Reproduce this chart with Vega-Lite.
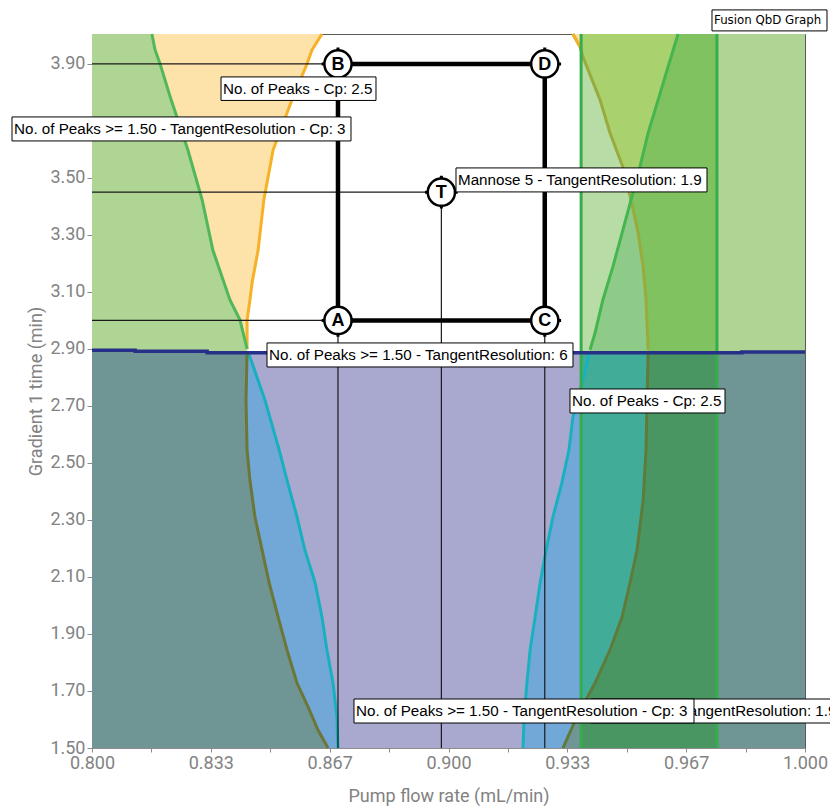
{
  "$schema": "https://vega.github.io/schema/vega-lite/v6.json",
  "width": 713,
  "height": 714,
  "autosize": {"type": "none"},
  "padding": {"left": 92, "top": 34, "right": 25, "bottom": 59},
  "background": "white",
  "config": {
    "view": {"stroke": "#5a5a5a", "strokeWidth": 1},
    "axis": {
      "grid": false,
      "domainColor": "#8c8c8c",
      "tickColor": "#8c8c8c",
      "labelColor": "#828282",
      "titleColor": "#828282",
      "labelFont": "Roboto",
      "titleFont": "Roboto",
      "labelFontSize": 18,
      "titleFontSize": 18,
      "titleFontWeight": "normal",
      "labelFlush": false,
      "labelOverlap": false
    }
  },
  "datasets": {
    "regions": [
      {"region": "o_left", "y": 2.88, "x": 0.8, "x2": 0.8435},
      {"region": "o_left", "y": 2.9, "x": 0.8, "x2": 0.8435},
      {"region": "o_left", "y": 3.002, "x": 0.8, "x2": 0.8435},
      {"region": "o_left", "y": 3.072, "x": 0.8, "x2": 0.8443},
      {"region": "o_left", "y": 3.132, "x": 0.8, "x2": 0.8449},
      {"region": "o_left", "y": 3.247, "x": 0.8, "x2": 0.8466},
      {"region": "o_left", "y": 3.423, "x": 0.8, "x2": 0.8482},
      {"region": "o_left", "y": 3.598, "x": 0.8, "x2": 0.8508},
      {"region": "o_left", "y": 3.774, "x": 0.8, "x2": 0.8561},
      {"region": "o_left", "y": 3.9, "x": 0.8, "x2": 0.8603},
      {"region": "o_left", "y": 3.949, "x": 0.8, "x2": 0.8617},
      {"region": "o_left", "y": 4.005, "x": 0.8, "x2": 0.8645},

      {"region": "go_left", "y": 2.88, "x": 0.8, "x2": 0.8437},
      {"region": "go_left", "y": 2.9, "x": 0.8, "x2": 0.8435},
      {"region": "go_left", "y": 3.002, "x": 0.8, "x2": 0.8415},
      {"region": "go_left", "y": 3.072, "x": 0.8, "x2": 0.8387},
      {"region": "go_left", "y": 3.247, "x": 0.8, "x2": 0.8339},
      {"region": "go_left", "y": 3.423, "x": 0.8, "x2": 0.8309},
      {"region": "go_left", "y": 3.598, "x": 0.8, "x2": 0.8269},
      {"region": "go_left", "y": 3.774, "x": 0.8, "x2": 0.8222},
      {"region": "go_left", "y": 3.9, "x": 0.8, "x2": 0.8191},
      {"region": "go_left", "y": 3.949, "x": 0.8, "x2": 0.8177},
      {"region": "go_left", "y": 4.005, "x": 0.8, "x2": 0.8168},

      {"region": "o_right", "y": 2.88, "x": 0.956, "x2": 1.0},
      {"region": "o_right", "y": 2.897, "x": 0.956, "x2": 1.0},
      {"region": "o_right", "y": 3.072, "x": 0.9554, "x2": 1.0},
      {"region": "o_right", "y": 3.188, "x": 0.9546, "x2": 1.0},
      {"region": "o_right", "y": 3.307, "x": 0.9532, "x2": 1.0},
      {"region": "o_right", "y": 3.423, "x": 0.9512, "x2": 1.0},
      {"region": "o_right", "y": 3.539, "x": 0.9489, "x2": 1.0},
      {"region": "o_right", "y": 3.658, "x": 0.9453, "x2": 1.0},
      {"region": "o_right", "y": 3.774, "x": 0.9425, "x2": 1.0},
      {"region": "o_right", "y": 3.925, "x": 0.9377, "x2": 1.0},
      {"region": "o_right", "y": 3.96, "x": 0.9369, "x2": 1.0},
      {"region": "o_right", "y": 4.005, "x": 0.9349, "x2": 1.0},

      {"region": "go_right", "y": 2.88, "x": 0.9753, "x2": 1.0},
      {"region": "go_right", "y": 4.005, "x": 0.9753, "x2": 1.0},

      {"region": "b", "y": 2.88, "x": 0.9372, "x2": 0.9753},
      {"region": "b", "y": 4.005, "x": 0.9372, "x2": 0.9753},

      {"region": "bo", "y": 2.88, "x": 0.956, "x2": 0.9753},
      {"region": "bo", "y": 2.897, "x": 0.956, "x2": 0.9753},
      {"region": "bo", "y": 3.072, "x": 0.9554, "x2": 0.9753},
      {"region": "bo", "y": 3.188, "x": 0.9546, "x2": 0.9753},
      {"region": "bo", "y": 3.307, "x": 0.9532, "x2": 0.9753},
      {"region": "bo", "y": 3.423, "x": 0.9512, "x2": 0.9753},
      {"region": "bo", "y": 3.539, "x": 0.9489, "x2": 0.9753},
      {"region": "bo", "y": 3.658, "x": 0.9453, "x2": 0.9753},
      {"region": "bo", "y": 3.774, "x": 0.9425, "x2": 0.9753},
      {"region": "bo", "y": 3.925, "x": 0.9377, "x2": 0.9753},
      {"region": "bo", "y": 3.945, "x": 0.9372, "x2": 0.9753},
      {"region": "bo", "y": 4.005, "x": 0.9372, "x2": 0.9753},

      {"region": "bg", "y": 2.88, "x": 0.9395, "x2": 0.9753},
      {"region": "bg", "y": 2.897, "x": 0.9397, "x2": 0.9753},
      {"region": "bg", "y": 2.956, "x": 0.9411, "x2": 0.9753},
      {"region": "bg", "y": 3.072, "x": 0.9433, "x2": 0.9753},
      {"region": "bg", "y": 3.188, "x": 0.9461, "x2": 0.9753},
      {"region": "bg", "y": 3.307, "x": 0.9487, "x2": 0.9753},
      {"region": "bg", "y": 3.423, "x": 0.9512, "x2": 0.9753},
      {"region": "bg", "y": 3.539, "x": 0.9537, "x2": 0.9753},
      {"region": "bg", "y": 3.658, "x": 0.956, "x2": 0.9753},
      {"region": "bg", "y": 3.774, "x": 0.9588, "x2": 0.9753},
      {"region": "bg", "y": 3.89, "x": 0.9616, "x2": 0.9753},
      {"region": "bg", "y": 4.005, "x": 0.9644, "x2": 0.9753},

      {"region": "bgo", "y": 2.88, "x": 0.956, "x2": 0.9753},
      {"region": "bgo", "y": 2.897, "x": 0.956, "x2": 0.9753},
      {"region": "bgo", "y": 3.072, "x": 0.9554, "x2": 0.9753},
      {"region": "bgo", "y": 3.188, "x": 0.9546, "x2": 0.9753},
      {"region": "bgo", "y": 3.307, "x": 0.9532, "x2": 0.9753},
      {"region": "bgo", "y": 3.423, "x": 0.9512, "x2": 0.9753},
      {"region": "bgo", "y": 3.539, "x": 0.9537, "x2": 0.9753},
      {"region": "bgo", "y": 3.658, "x": 0.956, "x2": 0.9753},
      {"region": "bgo", "y": 3.774, "x": 0.9588, "x2": 0.9753},
      {"region": "bgo", "y": 3.89, "x": 0.9616, "x2": 0.9753},
      {"region": "bgo", "y": 4.005, "x": 0.9644, "x2": 0.9753},

      {"region": "pg_left", "y": 1.5, "x": 0.8, "x2": 0.869},
      {"region": "pg_left", "y": 1.609, "x": 0.8, "x2": 0.8687},
      {"region": "pg_left", "y": 1.728, "x": 0.8, "x2": 0.8676},
      {"region": "pg_left", "y": 1.844, "x": 0.8, "x2": 0.8659},
      {"region": "pg_left", "y": 1.96, "x": 0.8, "x2": 0.8645},
      {"region": "pg_left", "y": 2.079, "x": 0.8, "x2": 0.8626},
      {"region": "pg_left", "y": 2.195, "x": 0.8, "x2": 0.8597},
      {"region": "pg_left", "y": 2.311, "x": 0.8, "x2": 0.8575},
      {"region": "pg_left", "y": 2.44, "x": 0.8, "x2": 0.8547},
      {"region": "pg_left", "y": 2.546, "x": 0.8, "x2": 0.8525},
      {"region": "pg_left", "y": 2.721, "x": 0.8, "x2": 0.8485},
      {"region": "pg_left", "y": 2.89, "x": 0.8, "x2": 0.8438},

      {"region": "pgo_left", "y": 1.5, "x": 0.8, "x2": 0.8662},
      {"region": "pgo_left", "y": 1.563, "x": 0.8, "x2": 0.8634},
      {"region": "pgo_left", "y": 1.644, "x": 0.8, "x2": 0.8606},
      {"region": "pgo_left", "y": 1.728, "x": 0.8, "x2": 0.8575},
      {"region": "pgo_left", "y": 1.844, "x": 0.8, "x2": 0.8547},
      {"region": "pgo_left", "y": 1.96, "x": 0.8, "x2": 0.8522},
      {"region": "pgo_left", "y": 2.079, "x": 0.8, "x2": 0.8497},
      {"region": "pgo_left", "y": 2.195, "x": 0.8, "x2": 0.8477},
      {"region": "pgo_left", "y": 2.311, "x": 0.8, "x2": 0.8457},
      {"region": "pgo_left", "y": 2.44, "x": 0.8, "x2": 0.8443},
      {"region": "pgo_left", "y": 2.546, "x": 0.8, "x2": 0.8435},
      {"region": "pgo_left", "y": 2.721, "x": 0.8, "x2": 0.8432},
      {"region": "pgo_left", "y": 2.89, "x": 0.8, "x2": 0.8435},

      {"region": "pg_right", "y": 1.5, "x": 0.9209, "x2": 1.0},
      {"region": "pg_right", "y": 1.609, "x": 0.9212, "x2": 1.0},
      {"region": "pg_right", "y": 1.728, "x": 0.922, "x2": 1.0},
      {"region": "pg_right", "y": 1.844, "x": 0.9229, "x2": 1.0},
      {"region": "pg_right", "y": 1.96, "x": 0.9243, "x2": 1.0},
      {"region": "pg_right", "y": 2.079, "x": 0.9257, "x2": 1.0},
      {"region": "pg_right", "y": 2.195, "x": 0.9274, "x2": 1.0},
      {"region": "pg_right", "y": 2.311, "x": 0.9293, "x2": 1.0},
      {"region": "pg_right", "y": 2.43, "x": 0.9318, "x2": 1.0},
      {"region": "pg_right", "y": 2.546, "x": 0.9338, "x2": 1.0},
      {"region": "pg_right", "y": 2.661, "x": 0.9349, "x2": 1.0},
      {"region": "pg_right", "y": 2.781, "x": 0.9375, "x2": 1.0},
      {"region": "pg_right", "y": 2.89, "x": 0.9396, "x2": 1.0},

      {"region": "pgo_right", "y": 1.5, "x": 0.9321, "x2": 1.0},
      {"region": "pgo_right", "y": 1.609, "x": 0.936, "x2": 1.0},
      {"region": "pgo_right", "y": 1.728, "x": 0.9411, "x2": 1.0},
      {"region": "pgo_right", "y": 1.844, "x": 0.9453, "x2": 1.0},
      {"region": "pgo_right", "y": 1.96, "x": 0.9487, "x2": 1.0},
      {"region": "pgo_right", "y": 2.079, "x": 0.9509, "x2": 1.0},
      {"region": "pgo_right", "y": 2.195, "x": 0.9529, "x2": 1.0},
      {"region": "pgo_right", "y": 2.37, "x": 0.9546, "x2": 1.0},
      {"region": "pgo_right", "y": 2.546, "x": 0.9554, "x2": 1.0},
      {"region": "pgo_right", "y": 2.89, "x": 0.956, "x2": 1.0},

      {"region": "bgp", "y": 1.5, "x": 0.9372, "x2": 0.9753},
      {"region": "bgp", "y": 2.89, "x": 0.9372, "x2": 0.9753},

      {"region": "bgop", "y": 1.5, "x": 0.9372, "x2": 0.9753},
      {"region": "bgop", "y": 1.636, "x": 0.9372, "x2": 0.9753},
      {"region": "bgop", "y": 1.728, "x": 0.9411, "x2": 0.9753},
      {"region": "bgop", "y": 1.844, "x": 0.9453, "x2": 0.9753},
      {"region": "bgop", "y": 1.96, "x": 0.9487, "x2": 0.9753},
      {"region": "bgop", "y": 2.079, "x": 0.9509, "x2": 0.9753},
      {"region": "bgop", "y": 2.195, "x": 0.9529, "x2": 0.9753},
      {"region": "bgop", "y": 2.37, "x": 0.9546, "x2": 0.9753},
      {"region": "bgop", "y": 2.546, "x": 0.9554, "x2": 0.9753},
      {"region": "bgop", "y": 2.89, "x": 0.956, "x2": 0.9753}
    ],
    "navy": [
      {"x": 0.8, "y": 2.8955, "base": 1.5},
      {"x": 0.8121, "y": 2.892, "base": 1.5},
      {"x": 0.8323, "y": 2.887, "base": 1.5},
      {"x": 0.9823, "y": 2.889, "base": 1.5},
      {"x": 1.0, "y": 2.889, "base": 1.5}
    ],
    "design": [
      {"name": "A", "x": 0.869, "y": 3.0, "x0": 0.8, "y0": 1.5},
      {"name": "B", "x": 0.869, "y": 3.9, "x0": 0.8, "y0": 1.5},
      {"name": "C", "x": 0.927, "y": 3.0, "x0": 0.8, "y0": 1.5},
      {"name": "D", "x": 0.927, "y": 3.9, "x0": 0.8, "y0": 1.5},
      {"name": "T", "x": 0.898, "y": 3.45, "x0": 0.8, "y0": 1.5}
    ],
    "labels": [
      {"id": 7, "text": "Mannose 5 - TangentResolution: 1.9", "x": 0.9399, "x2": 1.0101, "y": 1.6719, "y2": 1.5877, "ty": 1.6298},
      {"id": 1, "text": "No. of Peaks - Cp: 2.5", "x": 0.83619, "x2": 0.87966, "y": 3.8544, "y2": 3.7719, "ty": 3.8132},
      {"id": 2, "text": "No. of Peaks >= 1.50 - TangentResolution - Cp: 3", "x": 0.77756, "x2": 0.87265, "y": 3.714, "y2": 3.6298, "ty": 3.6719},
      {"id": 3, "text": "Mannose 5 - TangentResolution: 1.9", "x": 0.9021, "x2": 0.97251, "y": 3.5351, "y2": 3.4509, "ty": 3.493},
      {"id": 4, "text": "No. of Peaks >= 1.50 - TangentResolution: 6", "x": 0.84909, "x2": 0.93492, "y": 2.9211, "y2": 2.8368, "ty": 2.8789},
      {"id": 5, "text": "No. of Peaks - Cp: 2.5", "x": 0.93408, "x2": 0.97756, "y": 2.7596, "y2": 2.6754, "ty": 2.7175},
      {"id": 6, "text": "No. of Peaks >= 1.50 - TangentResolution - Cp: 3", "x": 0.87349, "x2": 0.96886, "y": 1.6719, "y2": 1.5877, "ty": 1.6298}
    ]
  },
  "layer": [
    {
      "data": {"name": "regions"},
      "transform": [{"filter": "datum.region == 'o_left'"}],
      "mark": {"type": "area", "orient": "horizontal", "fill": "#fde3aa"},
      "encoding": {
        "y": {
          "field": "y", "type": "quantitative",
          "scale": {"domain": [1.5, 4.005], "nice": false, "zero": false},
          "axis": {
            "title": "Gradient 1 time (min)",
            "values": [1.5, 1.6, 1.7, 1.8, 1.9, 2.0, 2.1, 2.2, 2.3, 2.4, 2.5, 2.6, 2.7, 2.8, 2.9, 3.0, 3.1, 3.2, 3.3, 3.4, 3.5, 3.6, 3.7, 3.8, 3.9],
            "labelExpr": "abs(datum.value * 5 - 0.5 - round(datum.value * 5 - 0.5)) < 0.001 && abs(datum.value - 3.7) > 0.001 ? format(datum.value, '.2f') : ''",
            "tickSize": {"condition": {"test": "abs(datum.value * 5 - 0.5 - round(datum.value * 5 - 0.5)) < 0.001", "value": 5}, "value": 3},
            "labelPadding": 2,
            "titlePadding": 4
          }
        },
        "x": {
          "field": "x", "type": "quantitative",
          "scale": {"domain": [0.8, 1.0], "nice": false, "zero": false},
          "axis": {
            "title": "Pump flow rate (mL/min)",
            "values": [0.8, 0.816667, 0.833333, 0.85, 0.866667, 0.883333, 0.9, 0.916667, 0.933333, 0.95, 0.966667, 0.983333, 1.0],
            "labelExpr": "abs(datum.value * 30 - round(datum.value * 30)) < 0.001 ? format(datum.value, '.3f') : ''",
            "tickSize": 4,
            "labelPadding": 2,
            "titlePadding": 15
          }
        },
        "x2": {"field": "x2"}
      }
    },
    {
      "data": {"name": "regions"},
      "transform": [{"filter": "datum.region == 'go_left'"}],
      "mark": {"type": "area", "orient": "horizontal", "fill": "#aed594"},
      "encoding": {"y": {"field": "y", "type": "quantitative"}, "x": {"field": "x", "type": "quantitative"}, "x2": {"field": "x2"}}
    },
    {
      "data": {"name": "regions"},
      "transform": [{"filter": "datum.region == 'o_right'"}],
      "mark": {"type": "area", "orient": "horizontal", "fill": "#fde3aa"},
      "encoding": {"y": {"field": "y", "type": "quantitative"}, "x": {"field": "x", "type": "quantitative"}, "x2": {"field": "x2"}}
    },
    {
      "data": {"name": "regions"},
      "transform": [{"filter": "datum.region == 'go_right'"}],
      "mark": {"type": "area", "orient": "horizontal", "fill": "#aed594"},
      "encoding": {"y": {"field": "y", "type": "quantitative"}, "x": {"field": "x", "type": "quantitative"}, "x2": {"field": "x2"}}
    },
    {
      "data": {"name": "regions"},
      "transform": [{"filter": "datum.region == 'b'"}],
      "mark": {"type": "area", "orient": "horizontal", "fill": "#b8dca6"},
      "encoding": {"y": {"field": "y", "type": "quantitative"}, "x": {"field": "x", "type": "quantitative"}, "x2": {"field": "x2"}}
    },
    {
      "data": {"name": "regions"},
      "transform": [{"filter": "datum.region == 'bo'"}],
      "mark": {"type": "area", "orient": "horizontal", "fill": "#a9d16d"},
      "encoding": {"y": {"field": "y", "type": "quantitative"}, "x": {"field": "x", "type": "quantitative"}, "x2": {"field": "x2"}}
    },
    {
      "data": {"name": "regions"},
      "transform": [{"filter": "datum.region == 'bg'"}],
      "mark": {"type": "area", "orient": "horizontal", "fill": "#8ecb89"},
      "encoding": {"y": {"field": "y", "type": "quantitative"}, "x": {"field": "x", "type": "quantitative"}, "x2": {"field": "x2"}}
    },
    {
      "data": {"name": "regions"},
      "transform": [{"filter": "datum.region == 'bgo'"}],
      "mark": {"type": "area", "orient": "horizontal", "fill": "#7fc25f"},
      "encoding": {"y": {"field": "y", "type": "quantitative"}, "x": {"field": "x", "type": "quantitative"}, "x2": {"field": "x2"}}
    },
    {
      "data": {"name": "navy"},
      "mark": {"type": "area", "interpolate": "step-after", "fill": "#a9a8cf"},
      "encoding": {"x": {"field": "x", "type": "quantitative"}, "y": {"field": "y", "type": "quantitative"}, "y2": {"field": "base"}}
    },
    {
      "data": {"name": "regions"},
      "transform": [{"filter": "datum.region == 'pg_left'"}],
      "mark": {"type": "area", "orient": "horizontal", "fill": "#72a8d8"},
      "encoding": {"y": {"field": "y", "type": "quantitative"}, "x": {"field": "x", "type": "quantitative"}, "x2": {"field": "x2"}}
    },
    {
      "data": {"name": "regions"},
      "transform": [{"filter": "datum.region == 'pgo_left'"}],
      "mark": {"type": "area", "orient": "horizontal", "fill": "#6f9694"},
      "encoding": {"y": {"field": "y", "type": "quantitative"}, "x": {"field": "x", "type": "quantitative"}, "x2": {"field": "x2"}}
    },
    {
      "data": {"name": "regions"},
      "transform": [{"filter": "datum.region == 'pg_right'"}],
      "mark": {"type": "area", "orient": "horizontal", "fill": "#72a8d8"},
      "encoding": {"y": {"field": "y", "type": "quantitative"}, "x": {"field": "x", "type": "quantitative"}, "x2": {"field": "x2"}}
    },
    {
      "data": {"name": "regions"},
      "transform": [{"filter": "datum.region == 'pgo_right'"}],
      "mark": {"type": "area", "orient": "horizontal", "fill": "#6f9694"},
      "encoding": {"y": {"field": "y", "type": "quantitative"}, "x": {"field": "x", "type": "quantitative"}, "x2": {"field": "x2"}}
    },
    {
      "data": {"name": "regions"},
      "transform": [{"filter": "datum.region == 'bgp'"}],
      "mark": {"type": "area", "orient": "horizontal", "fill": "#41ad98"},
      "encoding": {"y": {"field": "y", "type": "quantitative"}, "x": {"field": "x", "type": "quantitative"}, "x2": {"field": "x2"}}
    },
    {
      "data": {"name": "regions"},
      "transform": [{"filter": "datum.region == 'bgop'"}],
      "mark": {"type": "area", "orient": "horizontal", "fill": "#4a9663"},
      "encoding": {"y": {"field": "y", "type": "quantitative"}, "x": {"field": "x", "type": "quantitative"}, "x2": {"field": "x2"}}
    },
    {
      "data": {"name": "regions"},
      "transform": [{"filter": "datum.region == 'o_left' && datum.y >= 2.89"}],
      "mark": {"type": "line", "stroke": "#f7b127", "strokeWidth": 3},
      "encoding": {"x": {"field": "x2", "type": "quantitative"}, "y": {"field": "y", "type": "quantitative"}, "order": {"field": "y", "type": "quantitative"}}
    },
    {
      "data": {"name": "regions"},
      "transform": [{"filter": "datum.region == 'go_left' && datum.y >= 2.89"}],
      "mark": {"type": "line", "stroke": "#50b85a", "strokeWidth": 3},
      "encoding": {"x": {"field": "x2", "type": "quantitative"}, "y": {"field": "y", "type": "quantitative"}, "order": {"field": "y", "type": "quantitative"}}
    },
    {
      "data": {"name": "regions"},
      "transform": [{"filter": "datum.region == 'pg_left'"}],
      "mark": {"type": "line", "stroke": "#18b0bf", "strokeWidth": 3},
      "encoding": {"x": {"field": "x2", "type": "quantitative"}, "y": {"field": "y", "type": "quantitative"}, "order": {"field": "y", "type": "quantitative"}}
    },
    {
      "data": {"name": "regions"},
      "transform": [{"filter": "datum.region == 'pgo_left'"}],
      "mark": {"type": "line", "stroke": "#6c7637", "strokeWidth": 3},
      "encoding": {"x": {"field": "x2", "type": "quantitative"}, "y": {"field": "y", "type": "quantitative"}, "order": {"field": "y", "type": "quantitative"}}
    },
    {
      "data": {"name": "regions"},
      "transform": [{"filter": "datum.region == 'o_right' && datum.y >= 2.89"}],
      "mark": {"type": "line", "stroke": "#9aab3d", "strokeWidth": 3},
      "encoding": {"x": {"field": "x", "type": "quantitative"}, "y": {"field": "y", "type": "quantitative"}, "order": {"field": "y", "type": "quantitative"}}
    },
    {
      "data": {"name": "regions"},
      "transform": [{"filter": "datum.region == 'o_right' && datum.y >= 3.95"}],
      "mark": {"type": "line", "stroke": "#f7b127", "strokeWidth": 3},
      "encoding": {"x": {"field": "x", "type": "quantitative"}, "y": {"field": "y", "type": "quantitative"}, "order": {"field": "y", "type": "quantitative"}}
    },
    {
      "data": {"name": "regions"},
      "transform": [{"filter": "datum.region == 'bg' && datum.y >= 2.89"}],
      "mark": {"type": "line", "stroke": "#45b54f", "strokeWidth": 3},
      "encoding": {"x": {"field": "x", "type": "quantitative"}, "y": {"field": "y", "type": "quantitative"}, "order": {"field": "y", "type": "quantitative"}}
    },
    {
      "data": {"name": "regions"},
      "transform": [{"filter": "datum.region == 'pg_right'"}],
      "mark": {"type": "line", "stroke": "#19b0bf", "strokeWidth": 3},
      "encoding": {"x": {"field": "x", "type": "quantitative"}, "y": {"field": "y", "type": "quantitative"}, "order": {"field": "y", "type": "quantitative"}}
    },
    {
      "data": {"name": "regions"},
      "transform": [{"filter": "datum.region == 'pgo_right'"}],
      "mark": {"type": "line", "stroke": "#5e7b3b", "strokeWidth": 3},
      "encoding": {"x": {"field": "x", "type": "quantitative"}, "y": {"field": "y", "type": "quantitative"}, "order": {"field": "y", "type": "quantitative"}}
    },
    {
      "data": {"values": [{"x": 0.9372}, {"x": 0.9753}]},
      "mark": {"type": "rule", "stroke": "#34ad4b", "strokeWidth": 3},
      "encoding": {"x": {"field": "x", "type": "quantitative"}}
    },
    {
      "data": {"name": "navy"},
      "mark": {"type": "line", "interpolate": "step-after", "stroke": "#273088", "strokeWidth": 3.5},
      "encoding": {"x": {"field": "x", "type": "quantitative"}, "y": {"field": "y", "type": "quantitative"}}
    },
    {
      "data": {"name": "design"},
      "transform": [{"filter": "datum.name == 'A' || datum.name == 'B' || datum.name == 'T'"}],
      "mark": {"type": "rule", "stroke": "#1a1a1a", "strokeWidth": 1.2},
      "encoding": {"x": {"field": "x0", "type": "quantitative"}, "x2": {"field": "x"}, "y": {"field": "y", "type": "quantitative"}}
    },
    {
      "data": {"name": "design"},
      "transform": [{"filter": "datum.name == 'A' || datum.name == 'C' || datum.name == 'T'"}],
      "mark": {"type": "rule", "stroke": "#1a1a1a", "strokeWidth": 1.2},
      "encoding": {"x": {"field": "x", "type": "quantitative"}, "y": {"field": "y0", "type": "quantitative"}, "y2": {"field": "y"}}
    },
    {
      "data": {"values": [{"x": 0.869, "x2": 0.927, "y": 3.0, "y2": 3.9}]},
      "mark": {"type": "rect", "filled": false, "stroke": "#000000", "strokeWidth": 4.5},
      "encoding": {"x": {"field": "x", "type": "quantitative"}, "x2": {"field": "x2"}, "y": {"field": "y", "type": "quantitative"}, "y2": {"field": "y2"}}
    },
    {
      "data": {"name": "design"},
      "mark": {"type": "point", "shape": "M0,-0.9V-1.2M0,0.9V1.2M-0.9,0H-1.2M0.9,0H1.2", "filled": false, "stroke": "#000000", "strokeWidth": 3, "size": 740, "opacity": 1},
      "encoding": {"x": {"field": "x", "type": "quantitative"}, "y": {"field": "y", "type": "quantitative"}}
    },
    {
      "data": {"name": "design"},
      "mark": {"type": "point", "shape": "circle", "filled": true, "fill": "#ffffff", "stroke": "#000000", "strokeWidth": 2.5, "size": 740, "opacity": 1},
      "encoding": {"x": {"field": "x", "type": "quantitative"}, "y": {"field": "y", "type": "quantitative"}}
    },
    {
      "data": {"name": "design"},
      "mark": {"type": "text", "font": "Liberation Sans", "fontWeight": "bold", "fontSize": 18, "align": "center", "baseline": "middle", "dy": 1, "color": "#000000"},
      "encoding": {"x": {"field": "x", "type": "quantitative"}, "y": {"field": "y", "type": "quantitative"}, "text": {"field": "name"}}
    },
    {
      "data": {"name": "labels"},
      "transform": [{"filter": "datum.id == 7"}],
      "mark": {"type": "rect", "fill": "#ffffff", "stroke": "#000000", "strokeWidth": 1},
      "encoding": {"x": {"field": "x", "type": "quantitative"}, "x2": {"field": "x2"}, "y": {"field": "y", "type": "quantitative"}, "y2": {"field": "y2"}}
    },
    {
      "data": {"name": "labels"},
      "transform": [{"filter": "datum.id == 7"}],
      "mark": {"type": "text", "font": "Liberation Sans", "fontSize": 15.2, "align": "left", "baseline": "middle", "dx": 2, "color": "#000000"},
      "encoding": {"x": {"field": "x", "type": "quantitative"}, "y": {"field": "ty", "type": "quantitative"}, "text": {"field": "text"}}
    },
    {
      "data": {"name": "labels"},
      "transform": [{"filter": "datum.id != 7"}],
      "mark": {"type": "rect", "fill": "#ffffff", "stroke": "#000000", "strokeWidth": 1},
      "encoding": {"x": {"field": "x", "type": "quantitative"}, "x2": {"field": "x2"}, "y": {"field": "y", "type": "quantitative"}, "y2": {"field": "y2"}}
    },
    {
      "data": {"name": "labels"},
      "transform": [{"filter": "datum.id != 7"}],
      "mark": {"type": "text", "font": "Liberation Sans", "fontSize": 15.2, "align": "left", "baseline": "middle", "dx": 2, "color": "#000000"},
      "encoding": {"x": {"field": "x", "type": "quantitative"}, "y": {"field": "ty", "type": "quantitative"}, "text": {"field": "text"}}
    },
    {
      "data": {"values": [{"text": "Fusion QbD Graph", "x": 0.97391, "x2": 1.00617, "y": 4.0895, "y2": 4.0158, "ty": 4.0526}]},
      "mark": {"type": "rect", "fill": "#ffffff", "stroke": "#000000", "strokeWidth": 1},
      "encoding": {"x": {"field": "x", "type": "quantitative"}, "x2": {"field": "x2"}, "y": {"field": "y", "type": "quantitative"}, "y2": {"field": "y2"}}
    },
    {
      "data": {"values": [{"text": "Fusion QbD Graph", "x": 0.97391, "ty": 4.0526}]},
      "mark": {"type": "text", "font": "DejaVu Sans", "fontSize": 11.8, "align": "left", "baseline": "middle", "dx": 2, "color": "#000000"},
      "encoding": {"x": {"field": "x", "type": "quantitative"}, "y": {"field": "ty", "type": "quantitative"}, "text": {"field": "text"}}
    }
  ]
}
